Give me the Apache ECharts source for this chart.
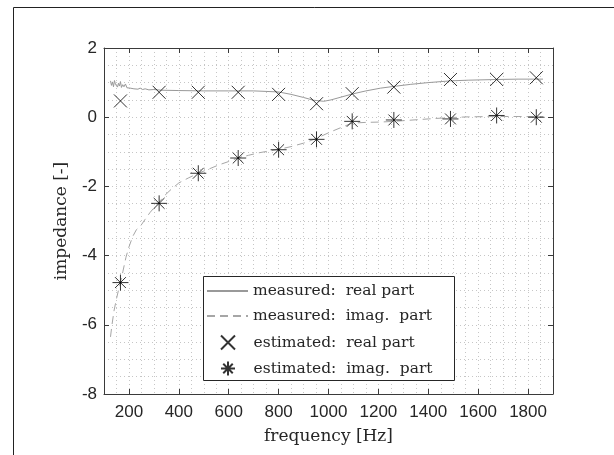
<!DOCTYPE html>
<html>
<head>
<meta charset="utf-8">
<script src="https://cdn.jsdelivr.net/npm/echarts@6/dist/echarts.min.js"></script>
<style>
  html, body { margin: 0; padding: 0; background: #fff; }
  #chart { width: 614px; height: 455px; }
</style>
</head>
<body>
<div id="chart"></div>
<script>
// measured curves
const realFreq = [126, 130, 134, 138, 142, 146, 150, 154, 158, 162, 166, 170, 175, 180, 186, 192, 198, 205, 212, 220, 228, 236, 245, 255, 265, 280, 300, 330, 400, 500, 600, 700, 800, 850, 900, 940, 981, 1010, 1050, 1095, 1150, 1209, 1262, 1330, 1400, 1489, 1560, 1674, 1760, 1860]
const realVal = [1.05, 0.92, 1.02, 0.88, 1.06, 0.95, 1.0, 0.87, 0.98, 0.9, 1.03, 0.86, 0.94, 0.88, 0.96, 0.85, 0.9, 0.84, 0.89, 0.82, 0.86, 0.81, 0.84, 0.8, 0.82, 0.79, 0.8, 0.78, 0.77, 0.76, 0.76, 0.76, 0.73, 0.66, 0.57, 0.49, 0.46, 0.5, 0.58, 0.67, 0.76, 0.84, 0.89, 0.95, 1.0, 1.05, 1.07, 1.09, 1.1, 1.1]
const imagFreq = [126, 132, 140, 150, 158, 166, 176, 188, 200, 215, 230, 246, 265, 285, 303, 321, 345, 370, 400, 440, 478, 520, 560, 600, 638, 680, 720, 760, 800, 850, 900, 950, 1000, 1050, 1095, 1150, 1209, 1262, 1320, 1400, 1489, 1560, 1674, 1760, 1860]
const imagVal = [-6.35, -6.0, -5.6, -5.25, -5.0, -4.78, -4.45, -4.05, -3.75, -3.45, -3.25, -3.15, -2.95, -2.75, -2.6, -2.45, -2.25, -2.08, -1.9, -1.75, -1.62, -1.5, -1.38, -1.28, -1.18, -1.1, -1.03, -0.98, -0.93, -0.85, -0.75, -0.62, -0.45, -0.3, -0.17, -0.15, -0.14, -0.12, -0.09, -0.05, -0.01, 0.01, 0.02, 0.02, 0.01]

// estimated points
const estFreq = [166, 321, 478, 638, 800, 952, 1095, 1262, 1489, 1674, 1833]
const estReal = [0.47, 0.72, 0.72, 0.72, 0.66, 0.39, 0.68, 0.87, 1.09, 1.09, 1.14]
const estImag = [-4.78, -2.49, -1.62, -1.18, -0.94, -0.64, -0.12, -0.08, -0.05, 0.05, 0.0]

const xTicks = [200, 400, 600, 800, 1000, 1200, 1400, 1600, 1800]
const seriesNames = ['measured:  real part', 'measured:  imag.  part', 'estimated:  real part', 'estimated:  imag.  part']

const zip = (xs, ys) => xs.map((x, i) => [x, ys[i]])

const axisColor = '#3a3a3a'
const gridLine = { color: '#c6c6c6', width: 1, type: [1, 3] }
const labelFont = { color: '#262626', fontFamily: 'Liberation Sans', fontSize: 17 }
const serifFont = { color: '#262626', fontFamily: 'DejaVu Serif', fontSize: 15.5 }

const crossPath = 'path://M0,0L10,10M10,0L0,10'
const starPath = 'path://M0,5L10,5M5,0L5,10M1.6,1.6L8.4,8.4M8.4,1.6L1.6,8.4'

// legend box and rows
const legendBox = { x: 203, y: 276, w: 251, h: 104 }
const legendRows = [283, 308, 333, 359]
const iconW = 41
const iconH = 14

const chart = echarts.init(document.getElementById('chart'), null, { renderer: 'canvas' })

// one legend per row; marker icons are narrower than the line icons, so the
// box is shifted to keep the symbol centred in the icon slot
const legends = seriesNames.map((name, i) => ({
  orient: 'vertical',
  left: i < 2 ? 206 : 205 + (iconW - iconH) / 2,
  top: legendRows[i],
  data: [i < 2 ? { name: name, itemStyle: { opacity: 0 } } : name],
  itemWidth: iconW,
  itemHeight: iconH,
  padding: 0,
  selectedMode: false,
  textStyle: Object.assign({ lineHeight: 14 }, serifFont),
  z: 6
}))

chart.setOption({
  animation: false,
  backgroundColor: '#fff',
  graphic: [
    {
      // figure frame
      type: 'polyline',
      shape: { points: [[13.5, 470], [13.5, 7.5], [630, 7.5]] },
      style: { stroke: '#222', lineWidth: 1, fill: null },
      silent: true
    },
    {
      // legend box
      type: 'rect',
      shape: { x: legendBox.x + 0.5, y: legendBox.y + 0.5, width: legendBox.w, height: legendBox.h },
      style: { stroke: '#262626', lineWidth: 1, fill: '#fff' },
      z: 5,
      silent: true
    }
  ],
  grid: { left: 104, right: 61, top: 48, bottom: 61, containLabel: false },
  legend: legends,
  xAxis: [
    {
      type: 'value',
      min: 100,
      max: 1900,
      position: 'bottom',
      name: 'frequency [Hz]',
      nameLocation: 'middle',
      nameGap: 34,
      nameTextStyle: Object.assign({}, serifFont, { fontSize: 17 }),
      axisLine: { show: true, onZero: false, lineStyle: { color: axisColor, width: 1 } },
      axisTick: { show: true, inside: true, length: 5, customValues: xTicks, lineStyle: { color: axisColor } },
      axisLabel: Object.assign({ customValues: xTicks, margin: 10, formatter: v => String(v) }, labelFont),
      splitLine: { show: false }
    },
    {
      type: 'value',
      min: 100,
      max: 1900,
      position: 'top',
      axisLine: { show: true, onZero: false, lineStyle: { color: axisColor, width: 1 } },
      axisTick: { show: true, inside: true, length: 5, customValues: xTicks, lineStyle: { color: axisColor } },
      axisLabel: { show: false },
      splitLine: { show: false }
    },
    {
      // dotted grid every 50 Hz
      type: 'value',
      min: 100,
      max: 1900,
      interval: 50,
      position: 'bottom',
      axisLine: { show: false, onZero: false },
      axisTick: { show: false },
      axisLabel: { show: false },
      splitLine: { show: true, lineStyle: gridLine }
    }
  ],
  yAxis: [
    {
      type: 'value',
      min: -8,
      max: 2,
      interval: 2,
      position: 'left',
      name: 'impedance [-]',
      nameLocation: 'middle',
      nameGap: 34,
      nameTextStyle: Object.assign({}, serifFont, { fontSize: 17 }),
      axisLine: { show: true, onZero: false, lineStyle: { color: axisColor, width: 1 } },
      axisTick: { show: true, inside: true, length: 5, lineStyle: { color: axisColor } },
      axisLabel: Object.assign({ margin: 7 }, labelFont),
      splitLine: { show: true, lineStyle: gridLine },
      minorTick: { show: false, splitNumber: 4 },
      minorSplitLine: { show: true, lineStyle: gridLine }
    },
    {
      type: 'value',
      min: -8,
      max: 2,
      interval: 2,
      position: 'right',
      axisLine: { show: true, onZero: false, lineStyle: { color: axisColor, width: 1 } },
      axisTick: { show: true, inside: true, length: 5, lineStyle: { color: axisColor } },
      axisLabel: { show: false },
      splitLine: { show: false }
    }
  ],
  series: [
    {
      name: seriesNames[0],
      type: 'line',
      data: zip(realFreq, realVal),
      symbol: 'none',
      lineStyle: { color: '#999', width: 1 },
      itemStyle: { color: '#999' },
      z: 2
    },
    {
      name: seriesNames[1],
      type: 'line',
      data: zip(imagFreq, imagVal),
      symbol: 'none',
      lineStyle: { color: '#a6a6a6', width: 1, type: [8, 5] },
      itemStyle: { color: '#a6a6a6' },
      z: 2
    },
    {
      name: seriesNames[2],
      type: 'scatter',
      data: zip(estFreq, estReal),
      symbol: crossPath,
      symbolSize: 13,
      symbolKeepAspect: true,
      itemStyle: { color: 'none', borderColor: '#000', borderWidth: 1 },
      emphasis: { disabled: true },
      z: 3
    },
    {
      name: seriesNames[3],
      type: 'scatter',
      data: zip(estFreq, estImag),
      symbol: starPath,
      symbolSize: 16,
      symbolKeepAspect: true,
      itemStyle: { color: 'none', borderColor: '#000', borderWidth: 1 },
      emphasis: { disabled: true },
      z: 3
    }
  ]
})
</script>
</body>
</html>
